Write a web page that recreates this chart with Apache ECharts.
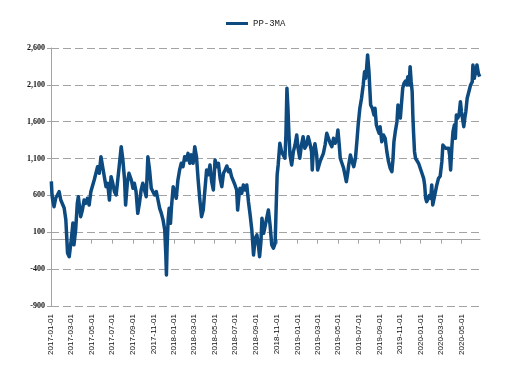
<!DOCTYPE html>
<html>
<head>
<meta charset="utf-8">
<script src="https://cdn.jsdelivr.net/npm/echarts@6/dist/echarts.min.js"></script>
<style>
html,body{margin:0;padding:0;background:#fff;}
#chart{width:511px;height:386px;}
</style>
</head>
<body>
<div id="chart"></div>
<script>
var seriesName = 'PP-3MA';

var tickLabels = ['2017-01-01','2017-03-01','2017-05-01','2017-07-01','2017-09-01','2017-11-01',
  '2018-01-01','2018-03-01','2018-05-01','2018-07-01','2018-09-01','2018-11-01',
  '2019-01-01','2019-03-01','2019-05-01','2019-07-01','2019-09-01','2019-11-01',
  '2020-01-01','2020-03-01','2020-05-01'];

var axisStart = '2017-01-01';
var axisEnd = '2020-06-25';

var yMin = -900, yMax = 2600, yStep = 500;

var dates = [
'2017-01-02','2017-01-04','2017-01-06','2017-01-10','2017-01-15','2017-01-20','2017-01-25','2017-01-30',
'2017-02-04','2017-02-09','2017-02-14','2017-02-17','2017-02-19','2017-02-24','2017-03-01','2017-03-03',
'2017-03-07','2017-03-10','2017-03-15','2017-03-20','2017-03-23','2017-03-27','2017-03-30','2017-04-04',
'2017-04-09','2017-04-14','2017-04-19','2017-04-24','2017-04-29','2017-05-04','2017-05-09','2017-05-14',
'2017-05-19','2017-05-24','2017-05-29','2017-06-03','2017-06-08','2017-06-13','2017-06-18','2017-06-23',
'2017-06-28','2017-07-03','2017-07-08','2017-07-13','2017-07-18','2017-07-23','2017-07-28','2017-08-02',
'2017-08-07','2017-08-10','2017-08-15','2017-08-20','2017-08-27','2017-09-01','2017-09-05','2017-09-10',
'2017-09-15','2017-09-20','2017-09-25','2017-09-30','2017-10-05','2017-10-10','2017-10-15','2017-10-20',
'2017-10-25','2017-10-30','2017-11-04','2017-11-09','2017-11-14','2017-11-19','2017-11-24','2017-11-29',
'2017-12-04','2017-12-07','2017-12-09','2017-12-11','2017-12-14','2017-12-17','2017-12-21','2017-12-24',
'2017-12-29','2018-01-02','2018-01-07','2018-01-12','2018-01-17','2018-01-22','2018-01-27','2018-02-01',
'2018-02-06','2018-02-11','2018-02-16','2018-02-21','2018-02-26','2018-03-03','2018-03-08','2018-03-13',
'2018-03-18','2018-03-23','2018-03-28','2018-04-02','2018-04-07','2018-04-12','2018-04-17','2018-04-22',
'2018-04-27','2018-05-02','2018-05-07','2018-05-12','2018-05-17','2018-05-22','2018-05-27','2018-06-01',
'2018-06-06','2018-06-11','2018-06-15','2018-06-20','2018-06-25','2018-06-30','2018-07-05','2018-07-08',
'2018-07-12','2018-07-15','2018-07-20','2018-07-25','2018-07-30','2018-08-04','2018-08-09','2018-08-14',
'2018-08-19','2018-08-24','2018-08-29','2018-09-03','2018-09-08','2018-09-11','2018-09-15','2018-09-18',
'2018-09-23','2018-09-28','2018-10-02','2018-10-07','2018-10-12','2018-10-17','2018-10-22','2018-10-27',
'2018-10-30','2018-11-02','2018-11-05','2018-11-10','2018-11-15','2018-11-20','2018-11-25','2018-11-28',
'2018-12-01','2018-12-04','2018-12-07','2018-12-10','2018-12-15','2018-12-20','2018-12-25','2018-12-30',
'2019-01-03','2019-01-08','2019-01-13','2019-01-18','2019-01-23','2019-01-28','2019-02-02','2019-02-07',
'2019-02-12','2019-02-14','2019-02-17','2019-02-22','2019-02-27','2019-03-02','2019-03-06','2019-03-09',
'2019-03-14','2019-03-19','2019-03-24','2019-03-29','2019-04-03','2019-04-08','2019-04-13','2019-04-18',
'2019-04-23','2019-04-28','2019-05-01','2019-05-05','2019-05-08','2019-05-13','2019-05-18','2019-05-23',
'2019-05-26','2019-05-30','2019-06-02','2019-06-07','2019-06-12','2019-06-17','2019-06-22','2019-06-27',
'2019-06-30','2019-07-05','2019-07-10','2019-07-15','2019-07-19','2019-07-22','2019-07-25','2019-07-28',
'2019-08-01','2019-08-04','2019-08-06','2019-08-11','2019-08-16','2019-08-19','2019-08-23','2019-08-26',
'2019-08-31','2019-09-03','2019-09-08','2019-09-13','2019-09-18','2019-09-23','2019-09-28','2019-10-03',
'2019-10-08','2019-10-11','2019-10-14','2019-10-18','2019-10-23','2019-10-26','2019-10-30','2019-11-02',
'2019-11-05','2019-11-09','2019-11-13','2019-11-17','2019-11-21','2019-11-24','2019-11-28','2019-12-01',
'2019-12-04','2019-12-07','2019-12-09','2019-12-11','2019-12-14','2019-12-17','2019-12-21','2019-12-26',
'2019-12-31','2020-01-05','2020-01-10','2020-01-13','2020-01-16','2020-01-19','2020-01-24','2020-01-27',
'2020-01-31','2020-02-03','2020-02-06','2020-02-10','2020-02-14','2020-02-18','2020-02-23','2020-02-28',
'2020-03-04','2020-03-07','2020-03-11','2020-03-15','2020-03-19','2020-03-24','2020-03-27','2020-03-30',
'2020-04-03','2020-04-06','2020-04-10','2020-04-13','2020-04-16','2020-04-20','2020-04-24','2020-04-28',
'2020-05-01','2020-05-04','2020-05-08','2020-05-11','2020-05-14','2020-05-18','2020-05-23','2020-05-28',
'2020-06-02','2020-06-04','2020-06-08','2020-06-12','2020-06-16','2020-06-20','2020-06-24'
];

var values = [
790,606,538,447,565,606,651,538,
565,430,267,0,-180,-231,-250,40,
226,-70,131,497,583,565,312,402,
538,493,561,470,651,674,809,900,
990,900,1125,1100,854,719,765,538,
854,765,651,606,628,1036,1261,1080,
809,470,765,900,809,697,765,651,
357,493,674,765,674,583,1125,945,
697,720,606,651,538,425,357,267,
131,-185,-480,-100,267,425,222,447,
719,740,561,809,945,1036,990,1125,
1080,1171,1036,1150,1036,1261,1125,809,
538,312,402,674,945,880,1013,787,
674,1080,990,1036,832,719,900,945,
1000,922,950,854,870,742,674,402,
606,697,628,742,674,742,515,335,
131,-208,18,64,-100,-231,-26,290,
86,60,290,402,199,-72,-117,-50,
425,877,1013,1307,1194,1150,1104,1420,
2053,1782,1420,1149,1013,1194,1284,1420,
1240,1104,1284,1397,1240,1284,1397,1307,
1194,945,1194,1300,1149,945,960,1058,
1080,1171,1284,1443,1465,1307,1262,1375,
1307,1375,1488,1284,1104,1036,968,854,
787,900,1013,1149,1058,990,1104,1375,
1555,1782,1918,2098,2279,2189,2324,2505,
2279,2007,1827,1782,1691,1782,1555,1510,
1443,1533,1329,1420,1375,1194,1058,968,
922,1080,1329,1465,1600,1827,1691,1650,
1668,2053,2121,2150,2098,2211,2098,2347,
2150,2007,1691,1465,1194,1104,1080,1036,
968,900,832,742,561,515,561,600,
561,742,470,561,651,742,832,860,
1058,1284,1284,1240,1262,1240,1149,945,
1284,1465,1555,1375,1691,1650,1691,1872,
1736,1650,1533,1650,1736,1918,2007,2098,
2140,2370,2189,2189,2370,2260,2211
];

function toTime(s) {
  var p = s.split('-');
  return new Date(+p[0], +p[1] - 1, +p[2]).getTime();
}

var tickTimes = tickLabels.map(toTime);
var lineData = dates.map(function (d, i) { return [toTime(d), values[i]]; });

function fmtTick(v) {
  for (var i = 0; i < tickTimes.length; i++) {
    if (Math.abs(tickTimes[i] - v) < 43200000) return tickLabels[i];
  }
  return '';
}

var chart = echarts.init(document.getElementById('chart'), null, {renderer: 'canvas'});
var gridColor = '#a3a3a3';
var lineColor = '#0d4a80';
chart.setOption({
  animation: false,
  backgroundColor: '#ffffff',
  legend: {
    top: 14,
    left: 221,
    icon: 'rect',
    itemWidth: 22,
    itemHeight: 3,
    itemGap: 6,
    itemStyle: {color: lineColor},
    textStyle: {fontFamily: 'Liberation Mono', fontSize: 9, color: '#222'},
    data: [seriesName]
  },
  grid: {left: 51, right: 31, top: 48, bottom: 80, containLabel: false, outerBoundsMode: 'none'},
  xAxis: [{
    type: 'value',
    min: toTime(axisStart),
    max: toTime(axisEnd),
    position: 'bottom',
    axisLine: {show: false, onZero: false},
    axisTick: {show: false},
    splitLine: {show: false},
    axisLabel: {
      customValues: tickTimes,
      rotate: 90,
      margin: 8,
      formatter: fmtTick,
      fontFamily: 'Liberation Sans',
      fontSize: 8,
      color: '#111'
    }
  }, {
    type: 'value',
    min: toTime(axisStart),
    max: toTime(axisEnd),
    position: 'bottom',
    axisLine: {show: true, onZero: true, lineStyle: {color: gridColor, width: 1}},
    axisTick: {show: true, customValues: tickTimes, length: 4, inside: false, lineStyle: {color: gridColor}},
    axisLabel: {show: false},
    splitLine: {show: false}
  }],
  yAxis: {
    type: 'value',
    min: yMin,
    max: yMax,
    interval: yStep,
    axisLine: {show: true, onZero: false, lineStyle: {color: gridColor, width: 1}},
    axisTick: {show: true, length: 4, lineStyle: {color: gridColor}},
    axisLabel: {
      margin: 6,
      fontFamily: 'Liberation Serif',
      fontWeight: 'bold',
      fontSize: 8,
      color: '#111',
      formatter: function (v) { return v.toLocaleString('en-US'); }
    },
    splitLine: {show: true, lineStyle: {color: gridColor, type: [8, 4], width: 1}}
  },
  series: [{
    name: seriesName,
    type: 'line',
    xAxisIndex: 0,
    data: lineData,
    symbol: 'none',
    smooth: false,
    lineStyle: {color: lineColor, width: 3.5, join: 'round'},
    itemStyle: {color: lineColor}
  }]
});
</script>
</body>
</html>
